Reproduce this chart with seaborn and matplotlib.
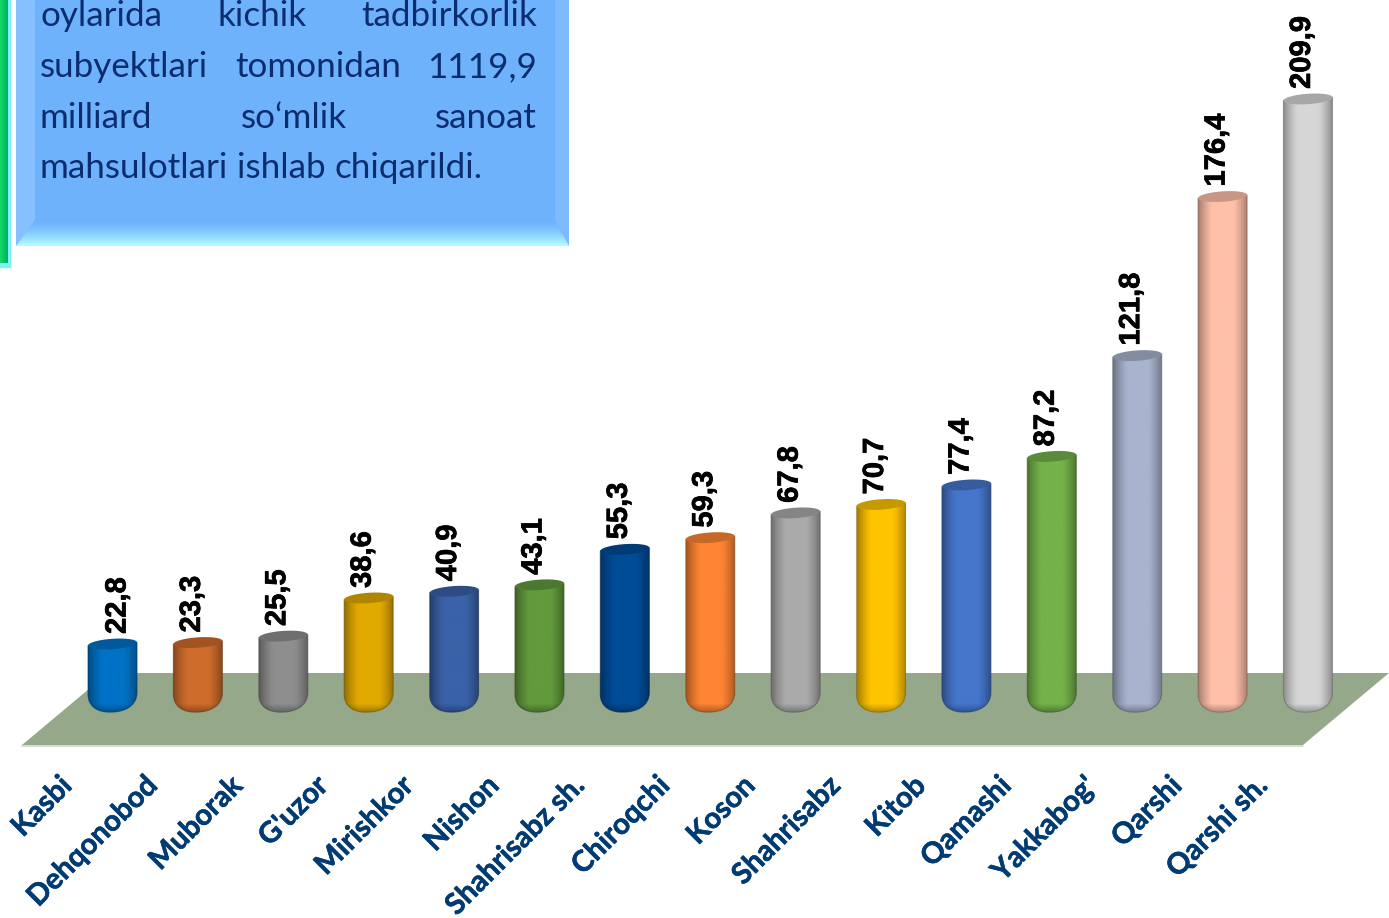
"""Cylinder bars of industrial output by district, with the text panel at top left."""

import matplotlib
matplotlib.use("Agg")
import matplotlib.patheffects as pe
import matplotlib.pyplot as plt
import numpy as np
import pandas as pd
import seaborn as sns
from matplotlib.colors import to_rgb
from matplotlib.patches import PathPatch, Polygon
from matplotlib.path import Path
from matplotlib.transforms import Affine2D, ScaledTranslation

districts = ["Kasbi", "Dehqonobod", "Muborak", "G'uzor", "Mirishkor", "Nishon",
             "Shahrisabz sh.", "Chiroqchi", "Koson", "Shahrisabz", "Kitob",
             "Qamashi", "Yakkabog'", "Qarshi", "Qarshi sh."]
values = [22.8, 23.3, 25.5, 38.6, 40.9, 43.1, 55.3, 59.3, 67.8, 70.7, 77.4,
          87.2, 121.8, 176.4, 209.9]
bar_colors = ["#0072C6", "#CE6C2C", "#8E8E8E", "#E2AA00", "#3A62A8", "#629A3C",
              "#004C97", "#FF8433", "#AAAAAA", "#FFC400", "#4576CC", "#74B24A",
              "#A8B3CE", "#FFC0AA", "#D6D6D6"]
panel_lines = [["oylarida", "kichik", "tadbirkorlik"],
               ["subyektlari", "tomonidan", "1119,9"],
               ["milliard", "so‘mlik", "sanoat"],
               ["mahsulotlari", "ishlab", "chiqarildi."]]

W, H = 1389, 918
STEP = 85.39          # px between bars
PX_PER_UNIT = 2.913   # px per unit of value
ZERO_Y = 710.4        # px row of value 0
AXES_BOTTOM = 760     # px row of the x axis
FIRST_X = 112.5       # px column of the first bar
BAR_WIDTH = 0.574
NAVY = "#0B2C6E"

sns.set_theme(style="white")
fig = plt.figure(figsize=(W / 100, H / 100), dpi=100)
ax = fig.add_axes([0, 1 - AXES_BOTTOM / H, 1, AXES_BOTTOM / H])
ax.patch.set_alpha(0)

# decorations are placed in image pixels, y pointing down
px = Affine2D().scale(1 / W, -1 / H).translate(0, 1) + fig.transFigure


def gradient(rgb, extent, clip, transform, zorder):
    im = ax.imshow(rgb, extent=extent, origin="upper", aspect="auto",
                   interpolation="bilinear", transform=transform, zorder=zorder)
    im.set_clip_path(clip)
    return im


def blend(a, b, t):
    a, b = np.array(to_rgb(a)), np.array(to_rgb(b))
    t = np.asarray(t)[..., None]
    return a * (1 - t) + b * t


def draw_panel():
    # green strip at the far left
    ax.add_patch(Polygon([(0, 0), (10, 0), (10, 267), (0, 267)], color="#7FF2F2",
                         transform=px, zorder=1, clip_on=False))
    strip = blend("#12D868", "#00B060", np.linspace(0, 1, 8))[None, :, :]
    clip = Polygon([(0, 0), (8, 0), (8, 263), (0, 263)], transform=px, facecolor="none",
                   edgecolor="none", clip_on=False)
    ax.add_patch(clip)
    gradient(strip, (0, 8, 263, 0), clip, px, 1.1)

    # bevelled blue box
    ax.add_patch(Polygon([(16, 0), (569, 0), (569, 246), (16, 246)], color="#6FB2FC",
                         lw=0, transform=px, zorder=1, clip_on=False))
    ax.add_patch(Polygon([(16, 0), (35, 0), (35, 220), (16, 246)], color="#86C0FE",
                         lw=0, transform=px, zorder=1.1, clip_on=False))
    ax.add_patch(Polygon([(555, 0), (569, 0), (569, 246), (555, 220)], color="#7EBBFE",
                         lw=0, transform=px, zorder=1.1, clip_on=False))
    ramp = blend("#6FB2FC", "#B4FFFF", np.linspace(0, 1, 26) ** 1.5)[:, None, :]
    clip = Polygon([(16, 246), (35, 220), (555, 220), (569, 246)], transform=px,
                   facecolor="none", edgecolor="none", clip_on=False)
    ax.add_patch(clip)
    gradient(ramp, (16, 569, 246, 220), clip, px, 1.2)

    # justified text, word by word
    renderer = fig.canvas.get_renderer()
    left, right = 40, 537
    for words, base in zip(panel_lines, [26, 77, 128, 178]):
        texts = [ax.text(0, base, w, transform=px, fontsize=25.2, family="Lato",
                         color=NAVY, va="baseline", ha="left", zorder=2, clip_on=False)
                 for w in words]
        widths = [t.get_window_extent(renderer).width for t in texts]
        if words is panel_lines[-1]:
            gap = 9
        else:
            gap = (right - left - sum(widths)) / (len(words) - 1)
        x = left
        for t, w in zip(texts, widths):
            t.set_x(x)
            x += w + gap


def draw_cylinder(bar, color):
    unit = 1 / PX_PER_UNIT
    l, r = bar.get_x(), bar.get_x() + bar.get_width()
    c = (l + r) / 2
    top = bar.get_height()
    tilt = 1.6 * unit
    low = -1.8 * unit
    corner = 18 * unit

    verts = [(l, top - tilt), (l, low + corner),
             (l, low + corner * 0.3), (l + (r - l) * 0.2, low), (c - (r - l) * 0.05, low),
             (l + (r - l) * 0.75, low), (r, low + corner * 0.35), (r, low + corner * 1.1),
             (r, top + tilt), (l, top - tilt)]
    codes = [Path.MOVETO, Path.LINETO, Path.CURVE4, Path.CURVE4, Path.CURVE4,
             Path.CURVE4, Path.CURVE4, Path.CURVE4, Path.LINETO, Path.CLOSEPOLY]
    body = PathPatch(Path(verts, codes), facecolor="none", edgecolor="none", zorder=3)
    ax.add_patch(body)

    base = np.array(to_rgb(color))
    u = np.linspace(0, 1, 60)
    across = 0.64 + 0.36 * np.clip(np.sin(np.pi * u) * 1.3, 0, 1) ** 0.9
    rows = max(int(top * PX_PER_UNIT), 24)
    v = np.linspace(top + tilt, low, rows)          # top of image first
    rim = np.clip((v - low) / (8 * unit), 0, 1) * 0.28 + 0.72
    shade = np.outer(rim, across)
    rgb = np.clip(base[None, None, :] * shade[..., None], 0, 1)
    gradient(rgb, (l, r, low, top + tilt), body, ax.transData, 3)
    ax.add_patch(PathPatch(Path(verts, codes), facecolor="none", zorder=3.1,
                           edgecolor=base * 0.5, linewidth=0.8, alpha=0.6))

    t = np.linspace(0, 2 * np.pi, 80)
    cap = np.column_stack([c + (r - l) / 2 * np.cos(t),
                           top + (5.2 * np.sin(t) + 1.6 * np.cos(t)) * unit])
    ax.add_patch(Polygon(cap, closed=True, facecolor=base * 0.78,
                         edgecolor="none", zorder=3.2))


df = pd.DataFrame({"district": districts, "value": values})
sns.barplot(data=df, x="district", y="value", hue="district", palette=bar_colors,
            width=BAR_WIDTH, legend=False, ax=ax)

bars = [b for c in ax.containers for b in c]
for bar, color in zip(bars, bar_colors):
    bar.set_visible(False)
    draw_cylinder(bar, color)

# floor under the bars
ax.add_patch(Polygon([(22, 745), (1303, 745), (1389, 673), (108, 673)], closed=True,
                     facecolor="#95A98A", edgecolor="none", transform=px, zorder=1,
                     clip_on=False))
ax.plot([22, 1303], [746, 746], color="#D5DDD0", lw=1.4, transform=px, zorder=1,
        clip_on=False)

draw_panel()

# value labels, rotated, with a decimal comma
for i, (bar, v) in enumerate(zip(bars, values)):
    shift = 5 if i == 0 else -6
    ax.annotate(f"{v:.1f}".replace(".", ","),
                xy=(bar.get_x() + bar.get_width() / 2, v),
                xytext=(shift, 10), textcoords="offset pixels",
                rotation=90, ha="center", va="bottom", fontsize=21,
                fontweight="bold", family="Liberation Sans", color="black", zorder=4,
                annotation_clip=False,
                path_effects=[pe.withStroke(linewidth=0.5, foreground="black")])

ax.set_xlim(-FIRST_X / STEP, (W - FIRST_X) / STEP)
ax.set_ylim((ZERO_Y - AXES_BOTTOM) / PX_PER_UNIT, ZERO_Y / PX_PER_UNIT)
ax.set_xlabel("")
ax.set_ylabel("")
ax.set_yticks([])
sns.despine(ax=ax, left=True, bottom=True)
ax.tick_params(axis="x", length=0, pad=9)
ax.set_xticks(range(len(districts)))
ax.set_xticklabels(districts, rotation=45, ha="right", va="top", rotation_mode="anchor",
                   fontsize=21, fontweight="bold", family="Lato", color="#003B73")
offset = ScaledTranslation(-54 / 100, 0, fig.dpi_scale_trans)
for lab in ax.get_xticklabels():
    lab.set_transform(lab.get_transform() + offset)
    lab.set_path_effects([pe.withStroke(linewidth=0.4, foreground="#003B73")])

fig.savefig("out.png", dpi=100)
